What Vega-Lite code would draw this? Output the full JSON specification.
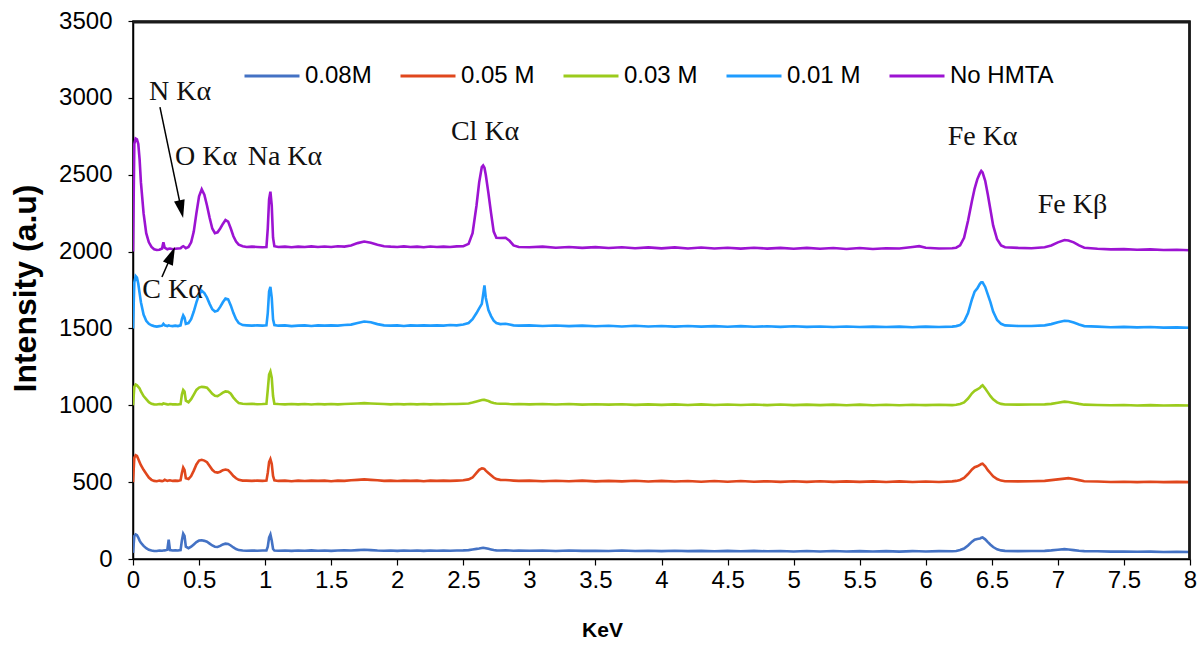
{
  "$schema": "https://vega.github.io/schema/vega-lite/v6.json",
  "width": 1057,
  "height": 538,
  "autosize": "none",
  "padding": {"left": 133, "top": 21, "right": 11, "bottom": 90},
  "background": "white",
  "config": {
    "view": {"stroke": "black", "strokeWidth": 1.5},
    "font": "Liberation Sans"
  },
  "datasets": {
    "spec": [
      {"k":0.00,"a":40,"b":500,"c":1000,"d":1500,"e":2000},
      {"k":0.01,"a":150,"b":660,"c":1120,"d":1800,"e":2700},
      {"k":0.02,"a":160,"b":675,"c":1135,"d":1840,"e":2735},
      {"k":0.03,"a":155,"b":670,"c":1130,"d":1830,"e":2730},
      {"k":0.04,"a":140,"b":650,"c":1120,"d":1790,"e":2700},
      {"k":0.05,"a":120,"b":630,"c":1110,"d":1730,"e":2600},
      {"k":0.06,"a":105,"b":610,"c":1090,"d":1670,"e":2450},
      {"k":0.08,"a":85,"b":580,"c":1060,"d":1590,"e":2250},
      {"k":0.10,"a":70,"b":555,"c":1040,"d":1550,"e":2120},
      {"k":0.12,"a":60,"b":530,"c":1020,"d":1530,"e":2060},
      {"k":0.14,"a":55,"b":515,"c":1010,"d":1520,"e":2030},
      {"k":0.16,"a":52,"b":508,"c":1006,"d":1515,"e":2015},
      {"k":0.18,"a":52,"b":506,"c":1005,"d":1512,"e":2010},
      {"k":0.20,"a":55,"b":510,"c":1008,"d":1515,"e":2012},
      {"k":0.22,"a":54,"b":507,"c":1006,"d":1518,"e":2020},
      {"k":0.23,"a":55,"b":509,"c":1012,"d":1530,"e":2060},
      {"k":0.24,"a":56,"b":515,"c":1010,"d":1520,"e":2025},
      {"k":0.26,"a":60,"b":508,"c":1006,"d":1515,"e":2015},
      {"k":0.27,"a":125,"b":510,"c":1005,"d":1520,"e":2018},
      {"k":0.28,"a":58,"b":512,"c":1008,"d":1518,"e":2020},
      {"k":0.30,"a":55,"b":508,"c":1006,"d":1515,"e":2015},
      {"k":0.32,"a":56,"b":510,"c":1006,"d":1518,"e":2018},
      {"k":0.34,"a":55,"b":508,"c":1005,"d":1515,"e":2020},
      {"k":0.36,"a":58,"b":512,"c":1008,"d":1520,"e":2022},
      {"k":0.37,"a":120,"b":560,"c":1070,"d":1560,"e":2030},
      {"k":0.38,"a":165,"b":595,"c":1100,"d":1585,"e":2035},
      {"k":0.39,"a":150,"b":580,"c":1090,"d":1570,"e":2030},
      {"k":0.40,"a":80,"b":525,"c":1030,"d":1530,"e":2022},
      {"k":0.42,"a":70,"b":520,"c":1020,"d":1535,"e":2030},
      {"k":0.44,"a":80,"b":540,"c":1040,"d":1560,"e":2060},
      {"k":0.46,"a":95,"b":575,"c":1070,"d":1610,"e":2130},
      {"k":0.48,"a":110,"b":615,"c":1100,"d":1670,"e":2250},
      {"k":0.50,"a":120,"b":640,"c":1115,"d":1720,"e":2360},
      {"k":0.52,"a":122,"b":645,"c":1120,"d":1745,"e":2405},
      {"k":0.54,"a":118,"b":640,"c":1118,"d":1730,"e":2370},
      {"k":0.56,"a":112,"b":630,"c":1115,"d":1700,"e":2300},
      {"k":0.58,"a":100,"b":605,"c":1095,"d":1660,"e":2220},
      {"k":0.60,"a":88,"b":580,"c":1075,"d":1625,"e":2150},
      {"k":0.62,"a":80,"b":565,"c":1062,"d":1610,"e":2120},
      {"k":0.64,"a":78,"b":562,"c":1060,"d":1615,"e":2125},
      {"k":0.66,"a":85,"b":568,"c":1070,"d":1640,"e":2150},
      {"k":0.68,"a":95,"b":578,"c":1082,"d":1670,"e":2180},
      {"k":0.70,"a":100,"b":582,"c":1090,"d":1695,"e":2205},
      {"k":0.72,"a":98,"b":578,"c":1088,"d":1690,"e":2195},
      {"k":0.74,"a":88,"b":560,"c":1075,"d":1650,"e":2150},
      {"k":0.76,"a":75,"b":540,"c":1050,"d":1600,"e":2100},
      {"k":0.78,"a":65,"b":525,"c":1030,"d":1560,"e":2065},
      {"k":0.80,"a":58,"b":515,"c":1015,"d":1535,"e":2045},
      {"k":0.83,"a":55,"b":510,"c":1010,"d":1522,"e":2035},
      {"k":0.86,"a":54,"b":510,"c":1008,"d":1520,"e":2030},
      {"k":0.90,"a":55,"b":508,"c":1010,"d":1518,"e":2032},
      {"k":0.94,"a":54,"b":510,"c":1007,"d":1520,"e":2030},
      {"k":0.98,"a":55,"b":508,"c":1008,"d":1518,"e":2028},
      {"k":1.01,"a":56,"b":510,"c":1010,"d":1520,"e":2030},
      {"k":1.02,"a":80,"b":560,"c":1100,"d":1600,"e":2150},
      {"k":1.03,"a":140,"b":630,"c":1200,"d":1740,"e":2340},
      {"k":1.04,"a":160,"b":650,"c":1220,"d":1770,"e":2390},
      {"k":1.05,"a":120,"b":620,"c":1180,"d":1700,"e":2300},
      {"k":1.06,"a":65,"b":540,"c":1060,"d":1560,"e":2090},
      {"k":1.07,"a":55,"b":512,"c":1010,"d":1522,"e":2035},
      {"k":1.10,"a":54,"b":508,"c":1008,"d":1518,"e":2030},
      {"k":1.15,"a":55,"b":510,"c":1006,"d":1520,"e":2032},
      {"k":1.20,"a":53,"b":506,"c":1008,"d":1515,"e":2028},
      {"k":1.25,"a":55,"b":510,"c":1006,"d":1518,"e":2032},
      {"k":1.30,"a":54,"b":507,"c":1008,"d":1520,"e":2030},
      {"k":1.35,"a":56,"b":510,"c":1005,"d":1516,"e":2034},
      {"k":1.40,"a":54,"b":508,"c":1008,"d":1520,"e":2030},
      {"k":1.45,"a":55,"b":510,"c":1006,"d":1518,"e":2033},
      {"k":1.50,"a":53,"b":506,"c":1008,"d":1520,"e":2030},
      {"k":1.55,"a":55,"b":510,"c":1006,"d":1518,"e":2035},
      {"k":1.60,"a":56,"b":508,"c":1008,"d":1522,"e":2032},
      {"k":1.65,"a":55,"b":512,"c":1010,"d":1525,"e":2040},
      {"k":1.70,"a":58,"b":515,"c":1012,"d":1535,"e":2055},
      {"k":1.75,"a":60,"b":518,"c":1014,"d":1545,"e":2065},
      {"k":1.80,"a":58,"b":515,"c":1012,"d":1540,"e":2058},
      {"k":1.85,"a":55,"b":512,"c":1010,"d":1528,"e":2045},
      {"k":1.90,"a":54,"b":508,"c":1008,"d":1520,"e":2035},
      {"k":1.95,"a":55,"b":510,"c":1006,"d":1518,"e":2032},
      {"k":2.00,"a":53,"b":507,"c":1008,"d":1520,"e":2030},
      {"k":2.05,"a":55,"b":510,"c":1006,"d":1516,"e":2034},
      {"k":2.10,"a":54,"b":508,"c":1008,"d":1520,"e":2030},
      {"k":2.15,"a":55,"b":510,"c":1006,"d":1518,"e":2032},
      {"k":2.20,"a":53,"b":506,"c":1008,"d":1520,"e":2028},
      {"k":2.25,"a":55,"b":510,"c":1006,"d":1518,"e":2033},
      {"k":2.30,"a":54,"b":508,"c":1008,"d":1520,"e":2030},
      {"k":2.35,"a":55,"b":510,"c":1007,"d":1518,"e":2032},
      {"k":2.40,"a":54,"b":508,"c":1008,"d":1522,"e":2030},
      {"k":2.45,"a":55,"b":510,"c":1008,"d":1520,"e":2034},
      {"k":2.50,"a":56,"b":512,"c":1010,"d":1525,"e":2035},
      {"k":2.54,"a":58,"b":518,"c":1012,"d":1535,"e":2050},
      {"k":2.57,"a":62,"b":530,"c":1018,"d":1560,"e":2120},
      {"k":2.60,"a":66,"b":560,"c":1025,"d":1600,"e":2300},
      {"k":2.62,"a":68,"b":580,"c":1030,"d":1630,"e":2450},
      {"k":2.64,"a":72,"b":590,"c":1035,"d":1660,"e":2550},
      {"k":2.65,"a":73,"b":588,"c":1036,"d":1720,"e":2560},
      {"k":2.66,"a":72,"b":585,"c":1035,"d":1780,"e":2545},
      {"k":2.67,"a":70,"b":575,"c":1033,"d":1700,"e":2500},
      {"k":2.69,"a":66,"b":560,"c":1028,"d":1620,"e":2380},
      {"k":2.71,"a":62,"b":545,"c":1020,"d":1580,"e":2250},
      {"k":2.73,"a":58,"b":530,"c":1015,"d":1550,"e":2130},
      {"k":2.75,"a":56,"b":520,"c":1012,"d":1535,"e":2090},
      {"k":2.78,"a":55,"b":515,"c":1010,"d":1528,"e":2088},
      {"k":2.82,"a":56,"b":514,"c":1010,"d":1530,"e":2090},
      {"k":2.85,"a":55,"b":512,"c":1008,"d":1525,"e":2070},
      {"k":2.88,"a":54,"b":510,"c":1007,"d":1520,"e":2040},
      {"k":2.92,"a":55,"b":508,"c":1008,"d":1518,"e":2030},
      {"k":3.00,"a":54,"b":510,"c":1006,"d":1520,"e":2028},
      {"k":3.10,"a":55,"b":506,"c":1008,"d":1516,"e":2032},
      {"k":3.20,"a":52,"b":509,"c":1005,"d":1519,"e":2025},
      {"k":3.30,"a":55,"b":506,"c":1008,"d":1515,"e":2030},
      {"k":3.40,"a":53,"b":510,"c":1004,"d":1518,"e":2024},
      {"k":3.50,"a":54,"b":505,"c":1007,"d":1514,"e":2029},
      {"k":3.60,"a":52,"b":508,"c":1004,"d":1517,"e":2023},
      {"k":3.70,"a":55,"b":505,"c":1007,"d":1513,"e":2028},
      {"k":3.80,"a":52,"b":509,"c":1003,"d":1517,"e":2022},
      {"k":3.90,"a":54,"b":504,"c":1006,"d":1513,"e":2027},
      {"k":4.00,"a":51,"b":508,"c":1003,"d":1516,"e":2021},
      {"k":4.10,"a":54,"b":504,"c":1006,"d":1512,"e":2027},
      {"k":4.20,"a":51,"b":507,"c":1002,"d":1516,"e":2020},
      {"k":4.30,"a":53,"b":503,"c":1006,"d":1512,"e":2026},
      {"k":4.40,"a":50,"b":507,"c":1002,"d":1515,"e":2020},
      {"k":4.50,"a":53,"b":503,"c":1005,"d":1511,"e":2025},
      {"k":4.60,"a":50,"b":507,"c":1002,"d":1515,"e":2019},
      {"k":4.70,"a":53,"b":503,"c":1005,"d":1511,"e":2025},
      {"k":4.80,"a":50,"b":506,"c":1001,"d":1514,"e":2019},
      {"k":4.90,"a":52,"b":502,"c":1005,"d":1510,"e":2024},
      {"k":5.00,"a":49,"b":506,"c":1001,"d":1514,"e":2018},
      {"k":5.10,"a":52,"b":502,"c":1004,"d":1510,"e":2024},
      {"k":5.20,"a":49,"b":506,"c":1001,"d":1513,"e":2018},
      {"k":5.30,"a":52,"b":502,"c":1004,"d":1509,"e":2023},
      {"k":5.40,"a":49,"b":505,"c":1000,"d":1513,"e":2017},
      {"k":5.50,"a":51,"b":502,"c":1004,"d":1509,"e":2023},
      {"k":5.60,"a":49,"b":505,"c":1000,"d":1512,"e":2017},
      {"k":5.70,"a":51,"b":501,"c":1003,"d":1509,"e":2022},
      {"k":5.80,"a":48,"b":505,"c":1000,"d":1512,"e":2020},
      {"k":5.90,"a":51,"b":501,"c":1003,"d":1508,"e":2030},
      {"k":5.95,"a":50,"b":503,"c":1002,"d":1510,"e":2035},
      {"k":6.00,"a":49,"b":504,"c":1001,"d":1512,"e":2025},
      {"k":6.10,"a":51,"b":501,"c":1003,"d":1509,"e":2020},
      {"k":6.20,"a":50,"b":505,"c":1001,"d":1512,"e":2022},
      {"k":6.23,"a":52,"b":508,"c":1004,"d":1515,"e":2025},
      {"k":6.26,"a":58,"b":514,"c":1009,"d":1522,"e":2040},
      {"k":6.29,"a":68,"b":528,"c":1019,"d":1545,"e":2090},
      {"k":6.32,"a":88,"b":553,"c":1044,"d":1600,"e":2200},
      {"k":6.35,"a":113,"b":583,"c":1078,"d":1690,"e":2330},
      {"k":6.37,"a":126,"b":597,"c":1094,"d":1740,"e":2410},
      {"k":6.39,"a":130,"b":603,"c":1104,"d":1760,"e":2470},
      {"k":6.41,"a":133,"b":613,"c":1114,"d":1790,"e":2510},
      {"k":6.42,"a":138,"b":618,"c":1124,"d":1800,"e":2525},
      {"k":6.43,"a":140,"b":620,"c":1130,"d":1800,"e":2515},
      {"k":6.45,"a":128,"b":603,"c":1109,"d":1770,"e":2460},
      {"k":6.47,"a":110,"b":578,"c":1084,"d":1720,"e":2370},
      {"k":6.49,"a":93,"b":558,"c":1059,"d":1670,"e":2270},
      {"k":6.51,"a":78,"b":538,"c":1039,"d":1610,"e":2170},
      {"k":6.54,"a":63,"b":520,"c":1019,"d":1555,"e":2080},
      {"k":6.57,"a":56,"b":510,"c":1009,"d":1530,"e":2040},
      {"k":6.60,"a":53,"b":506,"c":1005,"d":1520,"e":2028},
      {"k":6.70,"a":51,"b":505,"c":1004,"d":1516,"e":2024},
      {"k":6.80,"a":52,"b":506,"c":1005,"d":1516,"e":2022},
      {"k":6.90,"a":53,"b":508,"c":1006,"d":1520,"e":2028},
      {"k":6.95,"a":56,"b":513,"c":1009,"d":1528,"e":2040},
      {"k":7.00,"a":60,"b":518,"c":1017,"d":1540,"e":2060},
      {"k":7.05,"a":64,"b":523,"c":1024,"d":1550,"e":2075},
      {"k":7.08,"a":62,"b":526,"c":1021,"d":1548,"e":2072},
      {"k":7.12,"a":58,"b":520,"c":1015,"d":1538,"e":2060},
      {"k":7.16,"a":54,"b":513,"c":1009,"d":1525,"e":2040},
      {"k":7.20,"a":51,"b":506,"c":1004,"d":1515,"e":2025},
      {"k":7.30,"a":50,"b":504,"c":1002,"d":1512,"e":2018},
      {"k":7.40,"a":48,"b":501,"c":1000,"d":1508,"e":2014},
      {"k":7.50,"a":49,"b":503,"c":1002,"d":1510,"e":2016},
      {"k":7.60,"a":47,"b":500,"c":999,"d":1507,"e":2012},
      {"k":7.70,"a":48,"b":503,"c":1001,"d":1509,"e":2014},
      {"k":7.80,"a":46,"b":500,"c":999,"d":1505,"e":2010},
      {"k":7.90,"a":47,"b":502,"c":1000,"d":1507,"e":2012},
      {"k":8.00,"a":46,"b":500,"c":999,"d":1504,"e":2009}
    ],
    "labels": [
      {"k":0.356,"v":3038,"t":"N Kα"},
      {"k":0.553,"v":2615,"t":"O Kα"},
      {"k":1.15,"v":2615,"t":"Na Kα"},
      {"k":2.665,"v":2778,"t":"Cl Kα"},
      {"k":6.43,"v":2745,"t":"Fe Kα"},
      {"k":7.11,"v":2303,"t":"Fe Kβ"},
      {"k":0.30,"v":1750,"t":"C Kα"}
    ],
    "arrows": [
      {"name":"N","k":0.204,"v":2940,"k2":0.365,"v2":2276},
      {"name":"C","k":0.219,"v":1835,"k2":0.291,"v2":1976}
    ],
    "border": [
      {"k":0,"k2":8,"v":3492,"v2":3492},
      {"k":7.995,"k2":7.995,"v":0,"v2":3500}
    ]
  },
  "layer": [
    {
      "data": {"name": "spec"},
      "transform": [{"fold": ["a","b","c","d","e"], "as": ["s","I"]}],
      "mark": {"type": "line", "strokeWidth": 2.6, "clip": true},
      "encoding": {
        "x": {
          "field": "k", "type": "quantitative",
          "scale": {"domain": [0, 8], "nice": false, "zero": false},
          "axis": {
            "title": "KeV",
            "values": [0,0.25,0.5,0.75,1,1.25,1.5,1.75,2,2.25,2.5,2.75,3,3.25,3.5,3.75,4,4.25,4.5,4.75,5,5.25,5.5,5.75,6,6.25,6.5,6.75,7,7.25,7.5,7.75,8],
            "format": "~g",
            "labelExpr": "datum.value % 0.5 === 0 ? datum.label : ''",
            "grid": false,
            "domainColor": "black", "domainWidth": 1.5,
            "tickColor": "black", "tickSize": 6, "tickWidth": 1.2,
            "labelFontSize": 24, "labelColor": "black", "labelPadding": 3,
            "labelOverlap": false, "labelFlush": false,
            "titleFontSize": 21, "titleFontWeight": "bold", "titleColor": "black",
            "titleX": 469, "titleY": 71, "titleBaseline": "middle", "titleAnchor": null
          }
        },
        "y": {
          "field": "I", "type": "quantitative",
          "scale": {"domain": [0, 3500], "nice": false},
          "axis": {
            "title": "Intensity (a.u)",
            "values": [0,500,1000,1500,2000,2500,3000,3500],
            "format": "d",
            "grid": false,
            "domainColor": "black", "domainWidth": 1.5,
            "tickColor": "black", "tickSize": 5, "tickWidth": 1.2,
            "labelFontSize": 24, "labelColor": "black", "labelPadding": 16,
            "labelOverlap": false, "labelFlush": false,
            "titleFontSize": 32, "titleFontWeight": "bold", "titleColor": "black",
            "titleX": -108, "titleY": 267, "titleBaseline": "middle", "titleAnchor": null
          }
        },
        "color": {
          "field": "s", "type": "nominal",
          "scale": {"domain": ["a","b","c","d","e"], "range": ["#4472C4","#E0471D","#9BCB1C","#1E9CFF","#9C13D2"]},
          "legend": {
            "title": null,
            "orient": "none",
            "legendX": 110,
            "legendY": 26,
            "direction": "horizontal",
            "columns": 5,
            "padding": 0,
            "symbolType": "stroke",
            "symbolSize": 3025,
            "symbolStrokeWidth": 3,
            "labelFontSize": 24,
            "labelColor": "black",
            "labelOffset": 4,
            "columnPadding": 22,
            "labelLimit": 300,
            "labelExpr": "{'a':'0.08M','b':'0.05 M','c':'0.03 M','d':'0.01 M','e':'No HMTA'}[datum.value]"
          }
        }
      }
    },
    {
      "data": {"name": "border"},
      "mark": {"type": "rule", "color": "#1a1a1a", "strokeWidth": 2.5},
      "encoding": {
        "x": {"field": "k", "type": "quantitative"},
        "x2": {"field": "k2"},
        "y": {"field": "v", "type": "quantitative"},
        "y2": {"field": "v2"}
      }
    },
    {
      "data": {"name": "arrows"},
      "mark": {"type": "rule", "color": "black", "strokeWidth": 1.5},
      "encoding": {
        "x": {"field": "k", "type": "quantitative"},
        "y": {"field": "v", "type": "quantitative"},
        "x2": {"field": "k2"},
        "y2": {"field": "v2"}
      }
    },
    {
      "data": {"name": "arrows"},
      "transform": [{"filter": "datum.name === 'N'"}],
      "mark": {"type": "point", "shape": "M-0.6,-1L0.6,-1L0,1Z", "filled": true, "color": "black", "opacity": 1, "size": 324, "angle": 348},
      "encoding": {
        "x": {"field": "k2", "type": "quantitative"},
        "y": {"field": "v2", "type": "quantitative"}
      }
    },
    {
      "data": {"name": "arrows"},
      "transform": [{"filter": "datum.name === 'C'"}],
      "mark": {"type": "point", "shape": "M-0.6,-1L0.6,-1L0,1Z", "filled": true, "color": "black", "opacity": 1, "size": 324, "angle": 203},
      "encoding": {
        "x": {"field": "k2", "type": "quantitative"},
        "y": {"field": "v2", "type": "quantitative"}
      }
    },
    {
      "data": {"name": "labels"},
      "mark": {"type": "text", "font": "Liberation Serif", "fontSize": 28, "color": "#111", "align": "center", "baseline": "middle"},
      "encoding": {
        "x": {"field": "k", "type": "quantitative"},
        "y": {"field": "v", "type": "quantitative"},
        "text": {"field": "t"}
      }
    }
  ]
}
